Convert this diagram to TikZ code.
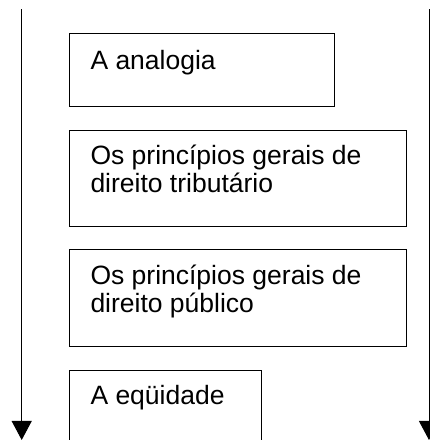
\documentclass[tikz,border=0pt]{standalone}
\usepackage{fontspec}
\setmainfont{Liberation Sans}
\usetikzlibrary{arrows.meta,calc}
\begin{document}
\begin{tikzpicture}[x=1pt,y=1pt,
  box/.style={draw=black, line width=1pt, anchor=north west, inner sep=0pt},
  lbl/.style={anchor=base west, inner sep=0pt, font=\fontsize{26.5}{28}\selectfont},
  flow/.style={line width=1pt, -{Triangle[width=20pt,length=19pt]}}]
\useasboundingbox (0,0) rectangle (430,440);
\clip (0,0) rectangle (430,440);
% boxes
\node[box, minimum width=265pt, minimum height=72.4pt] (b1) at (69.3,406.7) {};
\node[box, minimum width=336.4pt, minimum height=96pt] (b2) at (69.3,310) {};
\node[box, minimum width=336.4pt, minimum height=96.7pt] (b3) at (69.3,190.7) {};
\node[box, minimum width=192pt, minimum height=100pt] (b4) at (69.3,70) {};
% labels
\node[lbl] (t1) at ($(b1.north west)+(21,-36)$) {A analogia};
\node[lbl] (t2) at ($(b2.north west)+(21,-35)$) {\parbox[t]{320pt}{Os princípios gerais de\\direito tributário}};
\node[lbl] (t3) at ($(b3.north west)+(21,-35)$) {\parbox[t]{320pt}{Os princípios gerais de\\direito público}};
\node[lbl] (t4) at ($(b4.north west)+(21,-35)$) {A eqüidade};
% arrows
\coordinate (ls) at (21.7,430.7);
\coordinate (le) at (21.7,0);
\coordinate (rs) at (429,430.7);
\coordinate (re) at (429,0);
\draw[flow] (ls) -- (le);
\draw[flow] (rs) -- (re);
\end{tikzpicture}
\end{document}
